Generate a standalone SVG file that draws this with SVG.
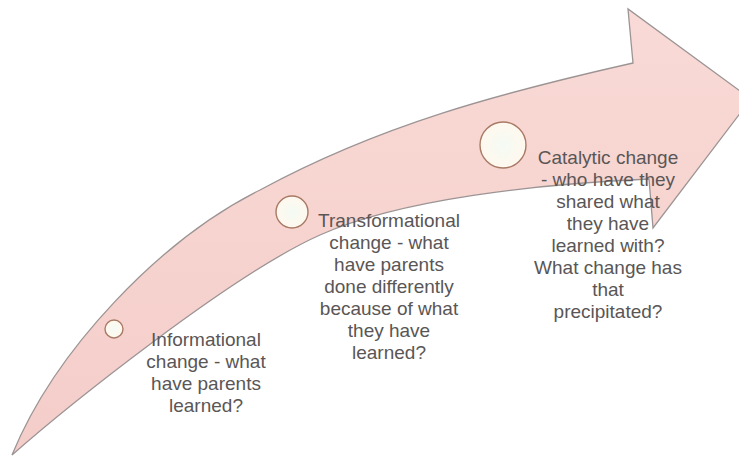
<svg xmlns="http://www.w3.org/2000/svg" width="739" height="457" viewBox="0 0 739 457">
<defs>
<linearGradient id="pinkFill" x1="0" y1="0" x2="0" y2="1">
<stop offset="0" stop-color="#f9dad6"/>
<stop offset="1" stop-color="#f4cdc9"/>
</linearGradient>
<radialGradient id="dotFill" cx="0.5" cy="0.5" r="0.5">
<stop offset="0" stop-color="#f4fbf4"/>
<stop offset="1" stop-color="#fff8ee"/>
</radialGradient>
</defs>
<style>
.arrow{fill:url(#pinkFill);stroke:#9c9494;stroke-width:1.3;stroke-linejoin:miter}
.dot{fill:url(#dotFill);stroke:#a87a66;stroke-width:1.4}
.lbl{font-family:"Liberation Sans",Arial,sans-serif;font-size:19px;fill:#5a5656;text-anchor:middle}
</style>
<rect width="739" height="457" fill="#ffffff"/>
<g id="connectors">
<path id="arrow" class="arrow" d="M12,455 C55,350 160,240 260,190 C380,125 500,93 633,63 L628,9 L751,99 L653,228 L649,179 C539,184 400,199 320,235 C230,275 62,411 12,455 Z"/>
</g>
<g id="node-informational">
<circle class="dot" cx="114" cy="329" r="9"/>
<text class="lbl" x="206"><tspan x="206" y="346">Informational</tspan><tspan x="206" y="368">change - what</tspan><tspan x="206" y="390">have parents</tspan><tspan x="206" y="412">learned?</tspan></text>
</g>
<g id="node-transformational">
<circle class="dot" cx="292" cy="212" r="16"/>
<text class="lbl" x="389"><tspan x="389" y="227">Transformational</tspan><tspan x="389" y="249">change - what</tspan><tspan x="389" y="271">have parents</tspan><tspan x="389" y="293">done differently</tspan><tspan x="389" y="315">because of what</tspan><tspan x="389" y="337">they have</tspan><tspan x="389" y="359">learned?</tspan></text>
</g>
<g id="node-catalytic">
<circle class="dot" cx="503" cy="145" r="23"/>
<text class="lbl" x="608"><tspan x="608" y="164">Catalytic change</tspan><tspan x="608" y="186">- who have they</tspan><tspan x="608" y="208">shared what</tspan><tspan x="608" y="230">they have</tspan><tspan x="608" y="252">learned with?</tspan><tspan x="608" y="274">What change has</tspan><tspan x="608" y="296">that</tspan><tspan x="608" y="318">precipitated?</tspan></text>
</g>
</svg>
